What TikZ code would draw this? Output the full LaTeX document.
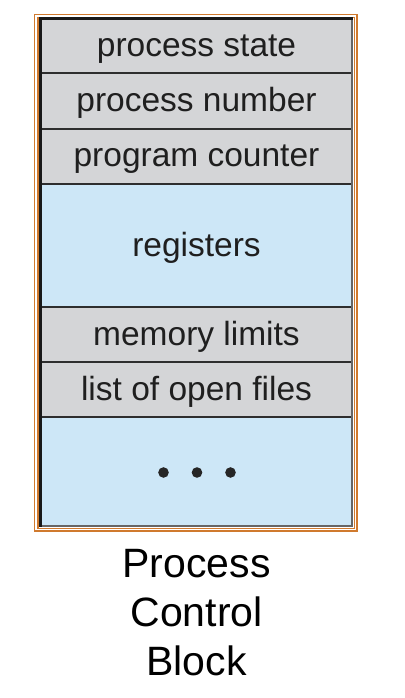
\documentclass[tikz,border=0pt]{standalone}
\usepackage{fontspec}
\setmainfont{Liberation Sans}
\definecolor{pcbgrey}{HTML}{D4D5D7}
\definecolor{pcbblue}{HTML}{CDE7F7}
\definecolor{pcborange}{HTML}{D07A2E}
\definecolor{pcbline}{HTML}{2E2E2E}

\begin{document}
\begin{tikzpicture}[x=1pt,y=-1pt,
    field/.style={anchor=base,inner sep=0pt,text=black!88,font=\fontsize{33.5}{40}\selectfont},
    caption/.style={anchor=base,inner sep=0pt,font=\fontsize{41}{49}\selectfont}]
  \useasboundingbox (0,0) rectangle (404,698);
  \def\l{41};
  \def\r{352};
  \def\m{196.5};

  % double orange frame
  \draw[pcborange,line width=1.5pt] (34.5,14.5) rectangle (357,531);
  \draw[pcborange,line width=1.5pt] (38,17.5) rectangle (354.5,528.5);

  % fields
  \foreach \t/\b/\c in {20/73/pcbgrey, 73/129/pcbgrey, 129/184/pcbgrey, 184/307/pcbblue,
      307/362/pcbgrey, 362/417/pcbgrey, 417/526/pcbblue}
    \fill[\c] (\l,\t) rectangle (\r,\b);
  \foreach \y in {73,129,184,307,362,417}
    \draw[pcbline,line width=2pt] (\l,\y) -- (\r,\y);
  \draw[black!60,line width=1.5pt] (\r,19) -- (\r,526) -- (\l,526);
  \draw[black!90,line width=3pt] (40,527) -- (40,19) -- (\r+0.75,19);

  \node[field] (state) at (\m,57) {process state};
  \node[field] (number) at (\m,111.5) {process number};
  \node[field] (counter) at (\m,166.5) {program counter};
  \node[field] (regs) at (\m,256) {registers};
  \node[field] (memory) at (\m,345) {memory limits};
  \node[field] (files) at (\m,400.5) {list of open files};
  \foreach \x in {163.5,197,230.5}
    \fill[black!85] (\x,472.5) circle (5.3);

  % caption
  \node[caption] (pcb1) at (\m,577) {Process};
  \node[caption] (pcb2) at (\m,626) {Control};
  \node[caption] (pcb3) at (\m,675) {Block};
\end{tikzpicture}
\end{document}
